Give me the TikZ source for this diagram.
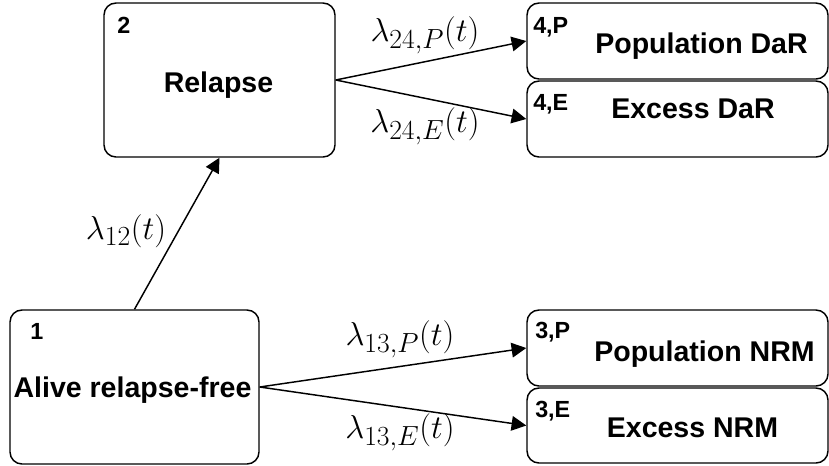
\documentclass[tikz,border=0pt]{standalone}
\usepackage{fontspec}
\setmainfont{Liberation Sans}
\usetikzlibrary{arrows.meta}
\begin{document}
\begin{tikzpicture}[x=0.75pt,y=-0.75pt,
  box/.style={draw,line width=1.1pt,rounded corners=9pt,inner sep=0pt},
  title/.style={font=\fontsize{21.4}{24}\selectfont\bfseries,inner sep=0pt,anchor=base},
  num/.style={font=\fontsize{17.5}{20}\selectfont\bfseries,inner sep=0pt,anchor=base west},
  rate/.style={font=\fontsize{28.5}{32}\selectfont,inner sep=0pt},
  arr/.style={-{Triangle[length=11pt,width=11pt]},line width=1.1pt}]
\useasboundingbox (0,0) rectangle (829,465);
% boxes
\node[box,minimum width=249*0.75pt,minimum height=154*0.75pt] (b1) at (134.5,387) {};
\node[box,minimum width=231*0.75pt,minimum height=154*0.75pt] (b2) at (219.5,80) {};
\node[box,minimum width=301*0.75pt,minimum height=76*0.75pt] (b4p) at (677.5,41) {};
\node[box,minimum width=301*0.75pt,minimum height=76*0.75pt] (b4e) at (677.5,119) {};
\node[box,minimum width=301*0.75pt,minimum height=76*0.75pt] (b3p) at (677.5,348) {};
\node[box,minimum width=301*0.75pt,minimum height=75*0.75pt] (b3e) at (677.5,425.5) {};
% titles
\node[title] (t1) at (132.5,397) {Alive relapse-free};
\node[title] (t2) at (218.5,92) {Relapse};
\node[title] (t4p) at (701.5,53) {Population DaR};
\node[title] (t4e) at (693,118) {Excess DaR};
\node[title] (t3p) at (704.5,361) {Population NRM};
\node[title] (t3e) at (692.5,437) {Excess NRM};
% numbers
\node[num] (n1) at (30,339) {1};
\node[num] (n2) at (117,33) {2};
\node[num] (n4p) at (533,33) {4,P};
\node[num] (n4e) at (533,110) {4,E};
\node[num] (n3p) at (535,338) {3,P};
\node[num] (n3e) at (535,417) {3,E};
% arrows
\draw[arr] (b1.north) -- (b2.south);
\draw[arr] (b2.east) -- (b4p.west);
\draw[arr] (b2.east) -- (b4e.west);
\draw[arr] (b1.east) -- (b3p.west);
\draw[arr] (b1.east) -- (b3e.west);
% rate labels
\node[rate] (l12) at (126,231) {$\lambda_{12}(t)$};
\node[rate] (l24p) at (425,35) {$\lambda_{24,P}(t)$};
\node[rate] (l24e) at (425,126) {$\lambda_{24,E}(t)$};
\node[rate] (l13p) at (400,339) {$\lambda_{13,P}(t)$};
\node[rate] (l13e) at (400,432) {$\lambda_{13,E}(t)$};
\end{tikzpicture}
\end{document}
